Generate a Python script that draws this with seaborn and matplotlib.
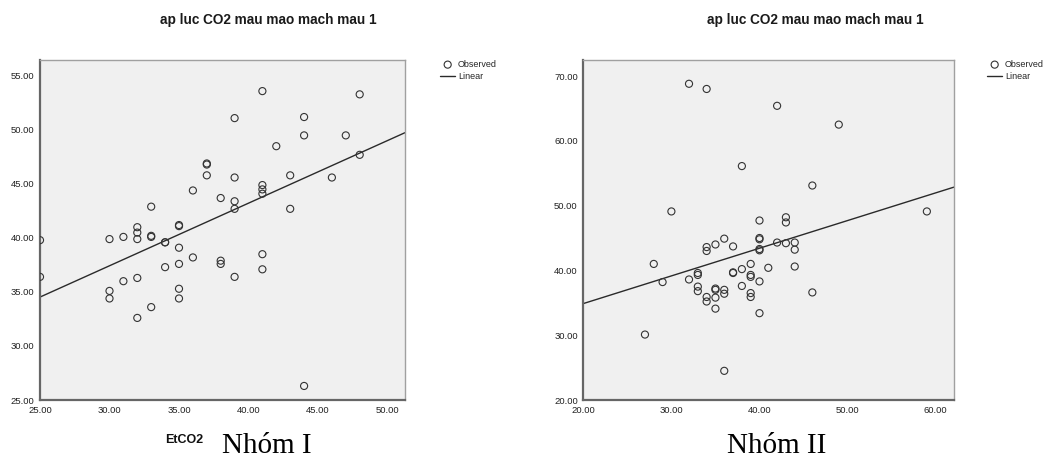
import numpy as np
import pandas as pd
import seaborn as sns
import matplotlib.pyplot as plt
from matplotlib.ticker import FormatStrFormatter

# Nhom I: EtCO2 vs ap luc CO2 mau mao mach
etco2_1 = [25, 25, 30, 30, 30, 31, 31, 32, 32, 32, 32, 32, 33, 33, 33, 33, 34, 34, 34,
           35, 35, 35, 35, 35, 35, 36, 36, 37, 37, 37, 38, 38, 38, 39, 39, 39, 39, 39,
           41, 41, 41, 41, 41, 41, 42, 43, 43, 44, 44, 44, 46, 47, 48, 48]
paco2_1 = [39.8, 36.4, 39.9, 35.1, 34.4, 40.1, 36.0, 41.0, 40.5, 39.9, 36.3, 32.6,
           42.9, 40.2, 40.1, 33.6, 39.6, 39.6, 37.3, 41.2, 41.1, 39.1, 37.6, 35.3, 34.4,
           44.4, 38.2, 46.9, 46.8, 45.8, 43.7, 37.9, 37.6, 51.1, 45.6, 43.4, 42.7, 36.4,
           53.6, 44.9, 44.5, 44.1, 38.5, 37.1, 48.5, 45.8, 42.7, 51.2, 49.5, 26.3,
           45.6, 49.5, 53.3, 47.7]

# Nhom II
etco2_2 = [27, 28, 29, 30, 32, 32, 33, 33, 33, 33, 34, 34, 34, 34, 34, 35, 35, 35, 35, 35,
           36, 36, 36, 36, 37, 37, 37, 38, 38, 38, 39, 39, 39, 39, 39,
           40, 40, 40, 40, 40, 40, 40, 41, 42, 42, 43, 43, 43, 44, 44, 44, 46, 46, 49, 59]
paco2_2 = [30.1, 41.0, 38.2, 49.1, 68.8, 38.6, 39.6, 39.3, 37.5, 36.8,
           68.0, 43.6, 43.0, 35.9, 35.2, 44.0, 37.2, 37.0, 35.8, 34.1,
           44.9, 37.0, 36.4, 24.5, 43.7, 39.7, 39.6, 56.1, 40.2, 37.6,
           41.0, 39.3, 39.0, 36.5, 35.9, 47.7, 45.0, 44.8, 43.3, 43.1, 38.3, 33.4,
           40.4, 65.4, 44.3, 48.2, 47.4, 44.2, 44.3, 43.2, 40.6, 53.1, 36.6, 62.5, 49.1]

title = "ap luc CO2 mau mao mach mau 1"
group_labels = ["Nhóm I", "Nhóm II"]

W, H = 1054, 458
sns.set_style("white")
plt.rcParams['font.family'] = ['Liberation Sans', 'DejaVu Sans']

fig = plt.figure(figsize=(W / 100, H / 100), dpi=100)


def px_axes(left, top, right, bottom):
    return fig.add_axes([left / W, 1 - bottom / H, (right - left) / W, (bottom - top) / H])


def draw_panel(ax, x, y, xlim, ylim, xticks, yticks):
    df = pd.DataFrame({"x": x, "y": y})
    ax.set_facecolor("#f0f0f0")
    ax.set_xlim(*xlim)
    ax.set_ylim(*ylim)
    sns.scatterplot(data=df, x="x", y="y", ax=ax, marker="o", s=26,
                    facecolors="none", edgecolor="#333333", linewidth=0.8,
                    label="Observed", zorder=3)
    sns.regplot(data=df, x="x", y="y", ax=ax, scatter=False, ci=None, truncate=False,
                label="Linear", line_kws={"color": "#2a2a2a", "lw": 1.0})
    ax.set_xlim(*xlim)
    ax.set_ylim(*ylim)
    ax.set_xticks(xticks)
    ax.set_yticks(yticks)
    ax.xaxis.set_major_formatter(FormatStrFormatter("%.2f"))
    ax.yaxis.set_major_formatter(FormatStrFormatter("%.2f"))
    ax.tick_params(axis="both", labelsize=6.8, colors="#222222", direction="out",
                   length=3.5, width=1.0, pad=0.5)
    ax.tick_params(axis="x", pad=1)
    ax.set_xlabel("")
    ax.set_ylabel("")
    for side in ["top", "right"]:
        ax.spines[side].set_color("#a0a0a0")
        ax.spines[side].set_linewidth(1.0)
    for side in ["left", "bottom"]:
        ax.spines[side].set_color("#666666")
        ax.spines[side].set_linewidth(1.6)
    return ax


# left panel
ax1 = px_axes(40, 60, 405, 400)
draw_panel(ax1, etco2_1, paco2_1, (25, 51.26), (25, 56.48),
           [25, 30, 35, 40, 45, 50], [25, 30, 35, 40, 45, 50, 55])

# right panel
ax2 = px_axes(583.3, 60, 954, 400)
draw_panel(ax2, etco2_2, paco2_2, (20, 62.08), (20, 72.47),
           [20, 30, 40, 50, 60], [20, 30, 40, 50, 60, 70])

for ax, dx in [(ax1, 35 / 365), (ax2, 33 / 370.7)]:
    ax.legend(loc="upper left", bbox_to_anchor=(1 + dx, 1.0), frameon=False,
              fontsize=6.5, handlelength=1.7, handletextpad=0.3, labelspacing=0.35,
              borderpad=0, borderaxespad=0)

# titles
fig.text(268 / W, 1 - 20 / H, title, ha="center", va="center",
         fontsize=9.8, fontweight="bold", color="#1a1a1a")
fig.text(815 / W, 1 - 20 / H, title, ha="center", va="center",
         fontsize=9.8, fontweight="bold", color="#1a1a1a")

# x label, only on the first chart
fig.text(184 / W, 1 - 442.7 / H, "EtCO2", ha="center", va="baseline",
         fontsize=9, fontweight="bold", color="#111111")

# group captions
fig.text(222 / W, 1 - 452.7 / H, group_labels[0], ha="left", va="baseline",
         fontsize=21, family="Liberation Serif", color="black")
fig.text(727 / W, 1 - 452.7 / H, group_labels[1], ha="left", va="baseline",
         fontsize=21, family="Liberation Serif", color="black")

fig.savefig("out.png", dpi=100)
